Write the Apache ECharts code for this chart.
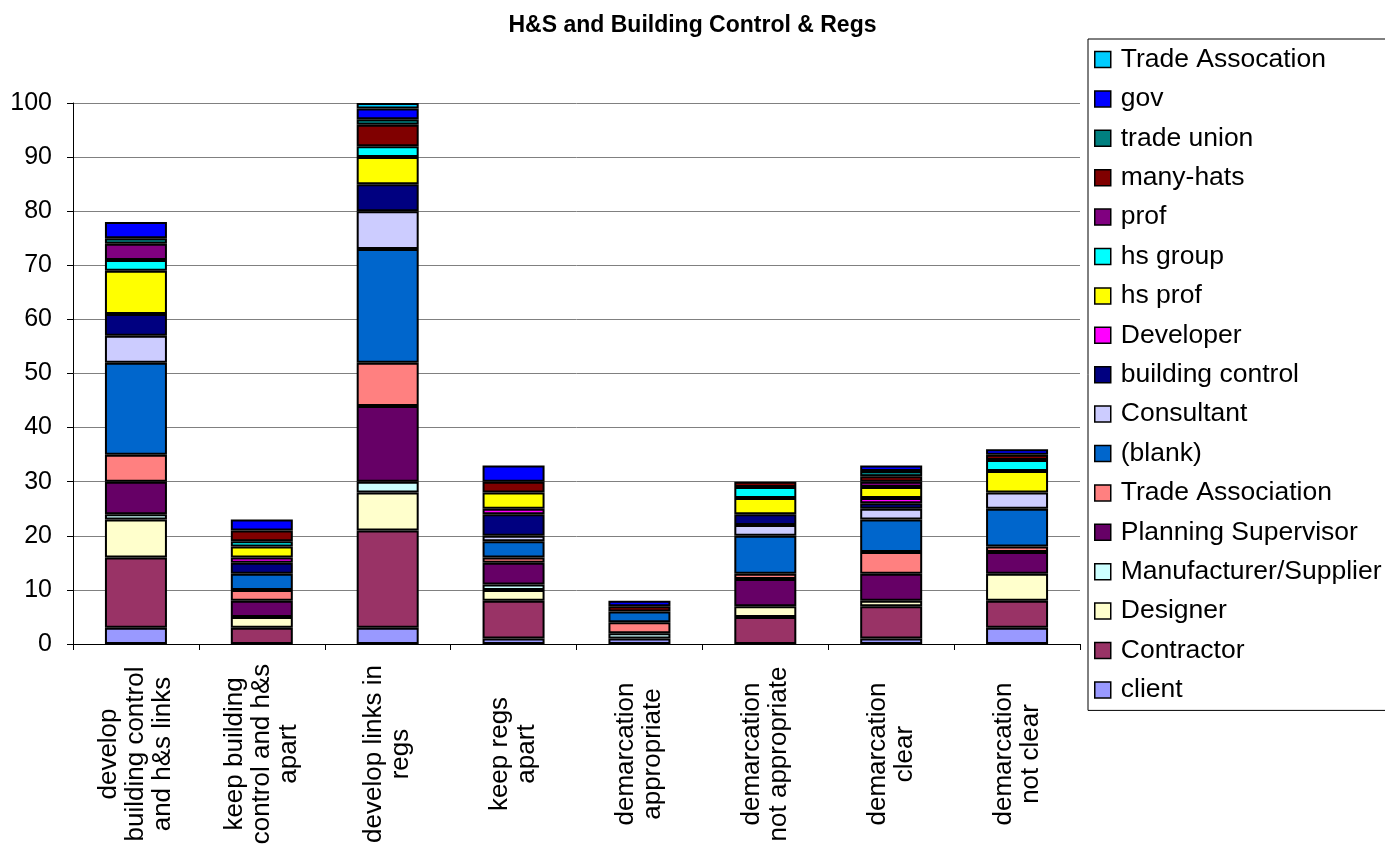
<!DOCTYPE html>
<html>
<head>
<meta charset="utf-8">
<title>H&amp;S and Building Control &amp; Regs</title>
<script src="https://cdn.jsdelivr.net/npm/echarts@6/dist/echarts.min.js"></script>
<style>
  html, body { margin: 0; padding: 0; background: #fff; }
  #chart { width: 1385px; height: 844px; }
</style>
</head>
<body>
<div id="chart"></div>
<script>
// Response categories along the x axis
const categories = [
  'develop\nbuilding control\nand h&s links',
  'keep building\ncontrol and h&s\napart',
  'develop links in\nregs',
  'keep regs\napart',
  'demarcation\nappropriate',
  'demarcation\nnot appropriate',
  'demarcation\nclear',
  'demarcation\nnot clear'
];

// Counts per respondent group, one value per category (stacked bottom to top)
const client               = [3, 0, 3, 1, 1, 0, 1, 3];
const contractor           = [13, 3, 18, 7, 0, 5, 6, 5];
const designer             = [7, 2, 7, 2, 0, 2, 1, 5];
const manufacturerSupplier = [1, 0, 2, 1, 1, 0, 0, 0];
const planningSupervisor   = [6, 3, 14, 4, 0, 5, 5, 4];
const tradeAssociation     = [5, 2, 8, 1, 2, 1, 4, 1];
const blank                = [17, 3, 21, 3, 2, 7, 6, 7];
const consultant           = [5, 0, 7, 1, 0, 2, 2, 3];
const buildingControl      = [4, 2, 5, 4, 0, 2, 1, 0];
const developer            = [0, 1, 0, 1, 0, 0, 1, 0];
const hsProf               = [8, 2, 5, 3, 0, 3, 2, 4];
const hsGroup              = [2, 1, 2, 0, 0, 2, 0, 2];
const prof                 = [3, 0, 0, 0, 0, 0, 1, 0];
const manyHats             = [0, 2, 4, 2, 1, 1, 1, 1];
const tradeUnion           = [1, 0, 1, 0, 0, 0, 1, 0];
const gov                  = [3, 2, 2, 3, 1, 0, 1, 1];
const tradeAssocation      = [0, 0, 1, 0, 0, 0, 0, 0];

// Y axis ticks
const yMin = 0, yMax = 100, yStep = 10;

const groups = [
  { name: 'client',                data: client,               color: '#9999FF' },
  { name: 'Contractor',            data: contractor,           color: '#993366' },
  { name: 'Designer',              data: designer,             color: '#FFFFCC' },
  { name: 'Manufacturer/Supplier', data: manufacturerSupplier, color: '#CCFFFF' },
  { name: 'Planning Supervisor',   data: planningSupervisor,   color: '#660066' },
  { name: 'Trade Association',     data: tradeAssociation,     color: '#FF8080' },
  { name: '(blank)',               data: blank,                color: '#0066CC' },
  { name: 'Consultant',            data: consultant,           color: '#CCCCFF' },
  { name: 'building control',      data: buildingControl,      color: '#000080' },
  { name: 'Developer',             data: developer,            color: '#FF00FF' },
  { name: 'hs prof',               data: hsProf,               color: '#FFFF00' },
  { name: 'hs group',              data: hsGroup,              color: '#00FFFF' },
  { name: 'prof',                  data: prof,                 color: '#800080' },
  { name: 'many-hats',             data: manyHats,             color: '#800000' },
  { name: 'trade union',           data: tradeUnion,           color: '#008080' },
  { name: 'gov',                   data: gov,                  color: '#0000FF' },
  { name: 'Trade Assocation',      data: tradeAssocation,      color: '#00CCFF' }
];

const FONT = '"Liberation Sans", Arial, sans-serif';

const series = groups.map(g => ({
  name: g.name,
  type: 'bar',
  stack: 'total',
  barWidth: 62,
  // empty groups are left out so they leave no border line behind
  data: g.data.map(v => (v === 0 ? null : v)),
  itemStyle: { color: g.color, borderColor: '#000', borderWidth: 2 },
  emphasis: { disabled: true }
}));

const chart = echarts.init(document.getElementById('chart'), null, { renderer: 'canvas' });
chart.setOption({
  backgroundColor: '#fff',
  animation: false,
  textStyle: { fontFamily: FONT },
  title: {
    text: 'H&S and Building Control & Regs',
    left: 'center',
    top: 9,
    textStyle: { fontFamily: FONT, fontSize: 23, fontWeight: 'bold', color: '#000' }
  },
  legend: {
    orient: 'vertical',
    left: 1088,
    top: 39,
    width: 300,
    data: groups.map(g => g.name).reverse(),
    icon: 'rect',
    itemWidth: 16,
    itemHeight: 16,
    itemGap: 12.4,
    padding: [7, 60, 7, 6],
    backgroundColor: '#fff',
    borderColor: '#000',
    borderWidth: 1,
    itemStyle: { borderColor: '#000', borderWidth: 1.5 },
    textStyle: { fontFamily: FONT, fontSize: 26.5, lineHeight: 26, color: '#000', padding: [0, 0, 0, 5] },
    selectedMode: false
  },
  grid: { left: 73, right: 305, top: 103, bottom: 200, containLabel: false, outerBoundsMode: 'none' },
  xAxis: {
    type: 'category',
    data: categories,
    axisLine: { show: true, lineStyle: { color: '#000', width: 1 } },
    axisTick: { show: true, alignWithLabel: false, length: 6, lineStyle: { color: '#000' } },
    axisLabel: {
      rotate: 90,
      align: 'center',
      margin: 110,
      interval: 0,
      fontFamily: FONT,
      fontSize: 26,
      lineHeight: 27,
      color: '#000'
    },
    splitLine: { show: false }
  },
  yAxis: {
    type: 'value',
    min: yMin,
    max: yMax,
    interval: yStep,
    axisLine: { show: true, lineStyle: { color: '#000', width: 1 } },
    axisTick: { show: true, length: 6, lineStyle: { color: '#000' } },
    axisLabel: { fontFamily: FONT, fontSize: 25, color: '#000', margin: 21 },
    splitLine: { show: true, lineStyle: { color: '#808080', width: 1 } }
  },
  series: series
});
</script>
</body>
</html>
